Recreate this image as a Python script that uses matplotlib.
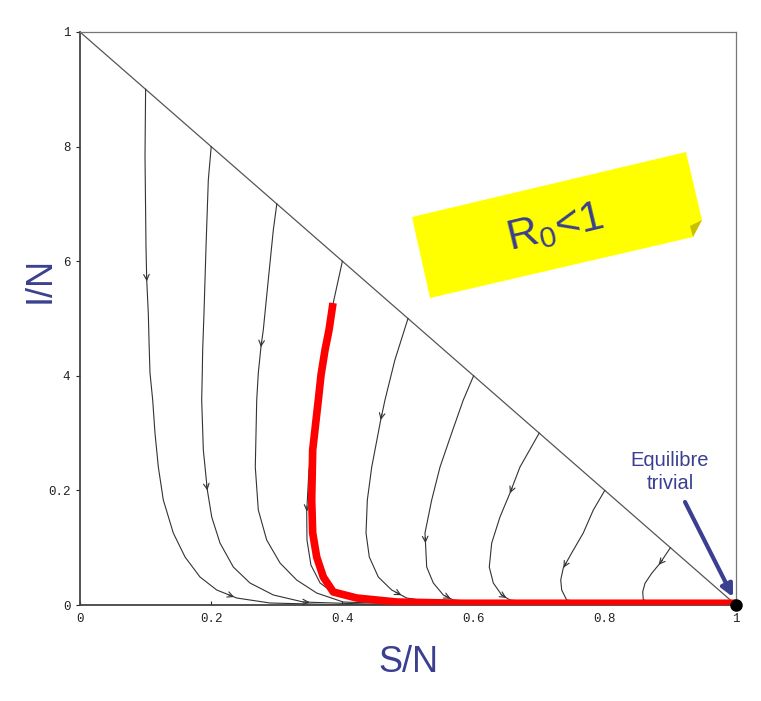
import matplotlib.pyplot as plt
from matplotlib.patches import Polygon
import numpy as np

plt.rcParams['mathtext.fontset'] = 'custom'
plt.rcParams['mathtext.rm'] = 'Liberation Sans'

# ------------ DATA ------------
# trajectories S/N, I/N, each starting on the line S + I = 1
s1 = [0.100, 0.0991, 0.1006, 0.1017, 0.1041, 0.1056, 0.1067, 0.1108, 0.1143, 0.1194,
      0.1270, 0.1422, 0.1601, 0.1829, 0.2084, 0.2389, 0.2896, 0.381, 1.0]
i1 = [0.900, 0.7824, 0.6253, 0.5672, 0.5096, 0.4450, 0.4049, 0.3578, 0.3002, 0.2408,
      0.1832, 0.1257, 0.0838, 0.0489, 0.0262, 0.0122, 0.0035, 0.0009, 0.0]
s2 = [0.200, 0.1956, 0.1921, 0.1890, 0.1870, 0.1864, 0.1855, 0.1880, 0.1941, 0.2008,
      0.2134, 0.2337, 0.2591, 0.2947, 0.3404, 0.4573, 1.0]
i2 = [0.800, 0.7417, 0.6253, 0.5091, 0.4450, 0.4049, 0.3578, 0.2705, 0.2007, 0.1536,
      0.1082, 0.0663, 0.0384, 0.0175, 0.0052, 0.0009, 0.0]
s3 = [0.300, 0.2947, 0.2870, 0.2794, 0.2759, 0.2718, 0.2694, 0.2672, 0.2718, 0.2846,
      0.3049, 0.3303, 0.3608, 0.4014, 0.518, 1.0]
i3 = [0.700, 0.6545, 0.5672, 0.4799, 0.4508, 0.4049, 0.3578, 0.2408, 0.1658, 0.1134,
      0.0733, 0.0436, 0.0209, 0.0052, 0.0009, 0.0]
s4 = [0.400, 0.3937, 0.386, 0.375, 0.3598, 0.349, 0.3456, 0.346, 0.352, 0.366,
      0.3887, 0.4268, 0.4878, 1.0]
i4 = [0.600, 0.5672, 0.527, 0.445, 0.328, 0.2356, 0.1628, 0.1134, 0.0698, 0.0384,
      0.0192, 0.0087, 0.0026, 0.0]
s5 = [0.500, 0.480, 0.4649, 0.4584, 0.4447, 0.4380, 0.4360, 0.4410, 0.4547, 0.4751,
      0.4980, 0.5488, 1.0]
i5 = [0.500, 0.4276, 0.3578, 0.3229, 0.2408, 0.1832, 0.1257, 0.0838, 0.0489, 0.0262,
      0.0122, 0.0035, 0.0]
s6 = [0.600, 0.5843, 0.5666, 0.5488, 0.5361, 0.5259, 0.5285, 0.5386, 0.5538, 0.5691,
      0.6098, 1.0]
i6 = [0.400, 0.3578, 0.3002, 0.2408, 0.1832, 0.1257, 0.0663, 0.0384, 0.0175, 0.0087,
      0.0035, 0.0]
s7 = [0.700, 0.6707, 0.6555, 0.6402, 0.6276, 0.6239, 0.6300, 0.6428, 0.6555, 0.7012, 1.0]
i7 = [0.300, 0.2408, 0.1955, 0.1536, 0.1082, 0.0663, 0.0384, 0.0175, 0.0087, 0.0035, 0.0]
s8 = [0.800, 0.7825, 0.7672, 0.7495, 0.7367, 0.7328, 0.7343, 0.7419, 0.7774, 1.0]
i8 = [0.200, 0.1658, 0.1257, 0.0908, 0.0646, 0.0436, 0.0262, 0.0087, 0.0026, 0.0]
s9 = [0.900, 0.8841, 0.8715, 0.8613, 0.8578, 0.8587, 0.8841, 1.0]
i9 = [0.100, 0.0728, 0.0553, 0.0379, 0.0232, 0.0087, 0.0026, 0.0]

# highlighted (red) trajectory
s_red = [0.3857, 0.3796, 0.3735, 0.3674, 0.3633, 0.3547, 0.3532, 0.3547, 0.3608,
         0.3709, 0.3861, 0.4218, 0.4828, 0.584, 1.0]
i_red = [0.527, 0.4799, 0.445, 0.4014, 0.3578, 0.2705, 0.1832, 0.1257, 0.0838,
         0.0489, 0.0227, 0.0122, 0.0052, 0.003, 0.0030]

# arrow heads: (curve, 'I' or 'S', level)
arrows = [(0, 'I', 0.565), (1, 'I', 0.20), (2, 'I', 0.45), (3, 'I', 0.163),
          (4, 'I', 0.323), (5, 'I', 0.108), (6, 'I', 0.195), (7, 'I', 0.065),
          (8, 'I', 0.07), (0, 'S', 0.235), (1, 'S', 0.35), (4, 'S', 0.49),
          (5, 'S', 0.565), (6, 'S', 0.65)]

xticks = [0, 0.2, 0.4, 0.6, 0.8, 1]
xtick_labels = ['0', '0.2', '0.4', '0.6', '0.8', '1']
yticks = [0, 0.2, 0.4, 0.6, 0.8, 1]
ytick_labels = ['0', '0.2', '4', '6', '8', '1']

blue = '#3a3f8f'

# ------------ DRAW ------------
fig = plt.figure(figsize=(7.61, 7.01), dpi=100)
ax = fig.add_axes([80 / 761, 1 - 605 / 701, 656 / 761, 573 / 701])
ax.set_xlim(0, 1)
ax.set_ylim(0, 1)

curves = [(s1, i1), (s2, i2), (s3, i3), (s4, i4), (s5, i5),
          (s6, i6), (s7, i7), (s8, i8), (s9, i9)]

# boundary S + I = 1
ax.plot([0, 1], [1, 0], color='#555555', lw=0.9)

for s, i in curves:
    ax.plot(s, i, color='#333333', lw=0.8, solid_joinstyle='round')

# arrow heads along trajectories
for c, kind, level in arrows:
    s = np.array(curves[c][0])
    i = np.array(curves[c][1])
    v = i if kind == 'I' else s
    for k in range(len(s) - 1):
        if kind == 'S' and i[k] > 0.05:
            continue
        a, b = v[k], v[k + 1]
        if min(a, b) <= level <= max(a, b) and a != b:
            t = (level - a) / (b - a)
            tip = np.array([s[k] + t * (s[k + 1] - s[k]), i[k] + t * (i[k + 1] - i[k])])
            d = np.array([s[k + 1] - s[k], i[k + 1] - i[k]])
            d = d / np.hypot(*d)
            ax.annotate('', xy=tip, xytext=tip - 0.01 * d,
                        arrowprops=dict(arrowstyle='->', color='#333333', lw=0.8,
                                        mutation_scale=10, shrinkA=0, shrinkB=0))
            break

ax.plot(s_red, i_red, color='#ff0000', lw=5.5, solid_capstyle='butt',
        solid_joinstyle='round', zorder=4)
ax.plot([1], [0], 'o', color='black', ms=8, clip_on=False, zorder=6)

# axes
for side in ['left', 'bottom']:
    ax.spines[side].set_color('#444444')
    ax.spines[side].set_linewidth(1.3)
for side in ['top', 'right']:
    ax.spines[side].set_color('#777777')
    ax.spines[side].set_linewidth(0.9)

ax.set_xticks(xticks)
ax.set_xticklabels(xtick_labels)
ax.set_yticks(yticks)
ax.set_yticklabels(ytick_labels)
ax.tick_params(axis='x', direction='in', length=3, pad=6, labelsize=9, colors='#222222')
ax.tick_params(axis='y', direction='out', length=3, pad=4, labelsize=9, colors='#222222')
for lab in ax.get_xticklabels() + ax.get_yticklabels():
    lab.set_family(['Liberation Mono', 'DejaVu Sans Mono'])

lab_font = ['Liberation Sans Narrow', 'Liberation Sans', 'DejaVu Sans']
fig.text(408 / 761, 1 - 662 / 701, 'S/N', color=blue, fontsize=26,
         family=lab_font, ha='center', va='center')
fig.text(40 / 761, 1 - 280 / 701, 'I/N', color=blue, fontsize=26,
         family=lab_font, ha='center', va='center', rotation=90)

# yellow note
def px(pts):
    return np.array([[x / 100, (701 - y) / 100] for x, y in pts])

note = Polygon(px([[412, 217], [686, 152], [702, 220], [693, 237], [430, 298]]),
               closed=True, facecolor='#ffff00', edgecolor='none',
               transform=fig.dpi_scale_trans)
fig.patches.append(note)
fold = Polygon(px([[702, 220], [693, 237], [690, 226]]),
               closed=True, facecolor='#c8c000', edgecolor='none',
               transform=fig.dpi_scale_trans)
fig.patches.append(fold)
fig.text(555 / 761, 1 - 228 / 701, r'R$_\mathrm{0}$<1', color=blue, fontsize=31,
         family=['Liberation Sans', 'DejaVu Sans'], ha='center', va='center',
         rotation=13.5, rotation_mode='anchor')

# equilibrium label
fig.text(670 / 761, 1 - 472 / 701, 'Equilibre\ntrivial', ha='center', va='center',
         color=blue, fontsize=14.5, family=['Liberation Sans', 'DejaVu Sans'],
         linespacing=1.3)
ax.annotate('', xy=(733 / 761, 1 - 597 / 701), xycoords='figure fraction',
            xytext=(685 / 761, 1 - 502 / 701), textcoords='figure fraction',
            arrowprops=dict(arrowstyle='-|>', color=blue, lw=3,
                            mutation_scale=18, shrinkA=0, shrinkB=0))

plt.savefig('out.png', dpi=100)
